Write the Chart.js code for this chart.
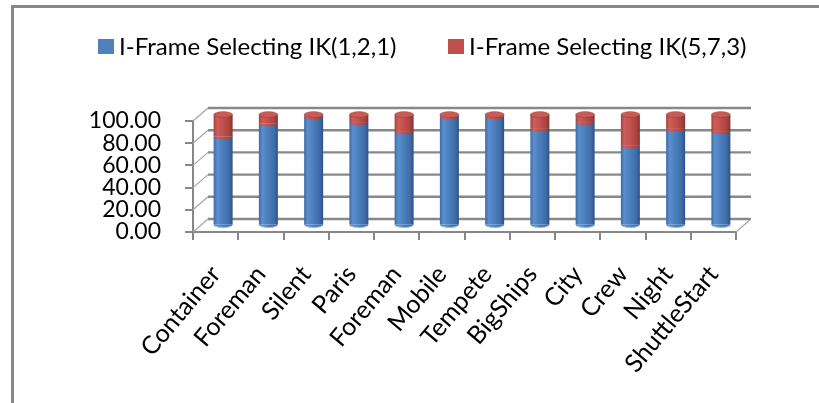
<!DOCTYPE html>
<html>
<head>
<meta charset="utf-8">
<script src="https://cdn.jsdelivr.net/npm/chart.js@4.4.1/dist/chart.umd.min.js"></script>
<style>
  html, body { margin: 0; padding: 0; background: #ffffff; }
  #frame {
    position: absolute; left: 11px; top: 5px; width: 808px; height: 398px;
    border-top: 3px solid #878787; border-left: 3px solid #878787;
  }
  #wrap { position: absolute; left: 0; top: 0; width: 819px; height: 403px; }
</style>
</head>
<body>
<div id="frame"></div>
<div id="wrap"><canvas id="c" width="819" height="403"></canvas></div>
<script>
// Sequences on the x axis
const categories = ['Container', 'Foreman', 'Silent', 'Paris', 'Foreman', 'Mobile',
                    'Tempete', 'BigShips', 'City', 'Crew', 'Night', 'ShuttleStart'];
// Share (%) of I-frames chosen by each IK setting
const ik121 = [80, 92, 98, 93, 85, 98, 98, 87, 93, 72, 87, 85];
const ik573 = [20, 8, 2, 7, 15, 2, 2, 13, 7, 28, 13, 15];
const seriesNames = ['I-Frame Selecting IK(1,2,1)', 'I-Frame Selecting IK(5,7,3)'];
const yTicks = [0, 20, 40, 60, 80, 100];

// 3D depth of the plot box (back wall offset from the front axes)
const DX = 15, DY = -13;
const BAR_FRACTION = 0.42;
const FONT = 'Lato, "Open Sans", sans-serif';

const palette = {
  blue: ['#3c6aa6', '#5a8ecd', '#4a7ebb', '#3e6ca7', '#2c5284'],
  red:  ['#a3413e', '#cf5d59', '#c0504d', '#a9433f', '#86322f'],
  blueSolid: '#4f81bd',
  redSolid: '#c0504d'
};

function sideGradient(ctx, cx, hw, stops) {
  const g = ctx.createLinearGradient(cx - hw, 0, cx + hw, 0);
  g.addColorStop(0, stops[0]);
  g.addColorStop(0.18, stops[1]);
  g.addColorStop(0.5, stops[2]);
  g.addColorStop(0.82, stops[3]);
  g.addColorStop(1, stops[4]);
  return g;
}

function bodyFill(stops, fallback) {
  return (c) => {
    const chart = c.chart;
    const xs = chart.scales && chart.scales.x;
    if (!xs || c.dataIndex === undefined || !chart.chartArea) return fallback;
    const cx = xs.getPixelForValue(c.dataIndex);
    const hw = xs.width / categories.length * BAR_FRACTION / 2;
    return sideGradient(chart.ctx, cx, hw, stops);
  };
}

// Back wall, side wall and floor edge, drawn behind the cylinders
const boxPlugin = {
  id: 'box3d',
  beforeDatasetsDraw(chart) {
    const { ctx, chartArea: a, scales: { y } } = chart;
    ctx.save();
    ctx.lineCap = 'butt';
    yTicks.forEach(v => {
      const py = y.getPixelForValue(v);
      // side wall diagonal
      ctx.strokeStyle = '#a6a6a6';
      ctx.lineWidth = 1.2;
      ctx.beginPath();
      ctx.moveTo(a.left, py);
      ctx.lineTo(a.left + DX, py + DY);
      ctx.stroke();
      // back wall line
      ctx.strokeStyle = '#888888';
      ctx.lineWidth = 2.4;
      ctx.beginPath();
      ctx.moveTo(a.left + DX, py + DY);
      ctx.lineTo(a.right + DX, py + DY);
      ctx.stroke();
    });
    // floor right edge
    const y0 = y.getPixelForValue(0);
    ctx.strokeStyle = '#a6a6a6';
    ctx.lineWidth = 1.2;
    ctx.beginPath();
    ctx.moveTo(a.right, y0);
    ctx.lineTo(a.right + DX, y0 + DY);
    ctx.stroke();
    ctx.restore();

    // cylinders sit halfway into the depth
    ctx.save();
    ctx.translate(DX / 2, DY / 2);
  },
  afterDatasetsDraw(chart) {
    const { ctx } = chart;
    const RY = 3;
    const metas = [chart.getDatasetMeta(0), chart.getDatasetMeta(1)];
    const stopsFor = [palette.blue, palette.red];
    metas.forEach((meta, di) => {
      meta.data.forEach((bar) => {
        const p = bar.getProps(['x', 'y', 'base', 'width'], true);
        const hw = p.width / 2;
        // lower rim of this segment
        ctx.beginPath();
        ctx.ellipse(p.x, p.base, hw, RY, 0, 0, Math.PI);
        ctx.closePath();
        ctx.fillStyle = sideGradient(ctx, p.x, hw, stopsFor[di]);
        ctx.fill();
        if (di === 0) {
          ctx.beginPath();
          ctx.ellipse(p.x, p.base, hw, RY, 0, 0.15 * Math.PI, 0.85 * Math.PI);
          ctx.strokeStyle = 'rgba(150,190,235,0.9)';
          ctx.lineWidth = 1.2;
          ctx.stroke();
        }
        // cap on the top segment
        if (di === metas.length - 1) {
          ctx.beginPath();
          ctx.ellipse(p.x, p.y, hw, RY, 0, 0, Math.PI * 2);
          ctx.fillStyle = '#c95a56';
          ctx.fill();
          ctx.strokeStyle = 'rgba(120,40,38,0.35)';
          ctx.lineWidth = 0.8;
          ctx.stroke();
        }
      });
    });
    ctx.restore();
  },
  afterDraw(chart) {
    // legend row
    const { ctx } = chart;
    const items = [
      { text: seriesNames[0], color: palette.blueSolid, x: 98 },
      { text: seriesNames[1], color: palette.redSolid, x: 448 }
    ];
    ctx.save();
    ctx.font = '24px ' + FONT;
    ctx.textBaseline = 'middle';
    items.forEach(it => {
      ctx.fillStyle = it.color;
      ctx.fillRect(it.x, 39, 16, 15);
      ctx.fillStyle = '#000';
      ctx.fillText(it.text, it.x + 21, 47);
    });
    ctx.restore();
  }
};

const PAD_LEFT = 20, CHART_LEFT = 193, CHART_RIGHT = 736, CHART_TOP = 121, CHART_BOTTOM = 232;

new Chart(document.getElementById('c'), {
  type: 'bar',
  data: {
    labels: categories,
    datasets: [
      {
        label: seriesNames[0],
        data: ik121,
        backgroundColor: bodyFill(palette.blue, palette.blueSolid),
        borderWidth: 0,
        categoryPercentage: 1,
        barPercentage: BAR_FRACTION,
        clip: false
      },
      {
        label: seriesNames[1],
        data: ik573,
        backgroundColor: bodyFill(palette.red, palette.redSolid),
        borderWidth: 0,
        categoryPercentage: 1,
        barPercentage: BAR_FRACTION,
        clip: false
      }
    ]
  },
  options: {
    responsive: false,
    animation: false,
    layout: { padding: { left: PAD_LEFT, right: 819 - CHART_RIGHT, top: CHART_TOP, bottom: 0 } },
    plugins: { legend: { display: false }, tooltip: { enabled: false } },
    scales: {
      x: {
        stacked: true,
        grid: { drawOnChartArea: false, drawTicks: true, tickLength: 8, color: '#878787', lineWidth: 2, offset: true },
        border: { display: true, color: '#878787', width: 2 },
        ticks: {
          color: '#000',
          font: { family: FONT, size: 25 },
          minRotation: 50, maxRotation: 50, autoSkip: false, padding: 20
        },
        afterFit(scale) { scale.height = 403 - CHART_BOTTOM; }
      },
      y: {
        stacked: true,
        min: 0, max: 100,
        grid: { drawOnChartArea: false, drawTicks: true, tickLength: 8, color: '#878787', lineWidth: 2 },
        border: { display: true, color: '#878787', width: 2 },
        ticks: {
          stepSize: 20,
          autoSkip: false,
          padding: 24,
          color: '#000',
          font: { family: FONT, size: 23 },
          callback: (v) => Number(v).toFixed(2)
        },
        afterFit(scale) { scale.width = CHART_LEFT - PAD_LEFT; }
      }
    }
  },
  plugins: [boxPlugin]
});
</script>
</body>
</html>
